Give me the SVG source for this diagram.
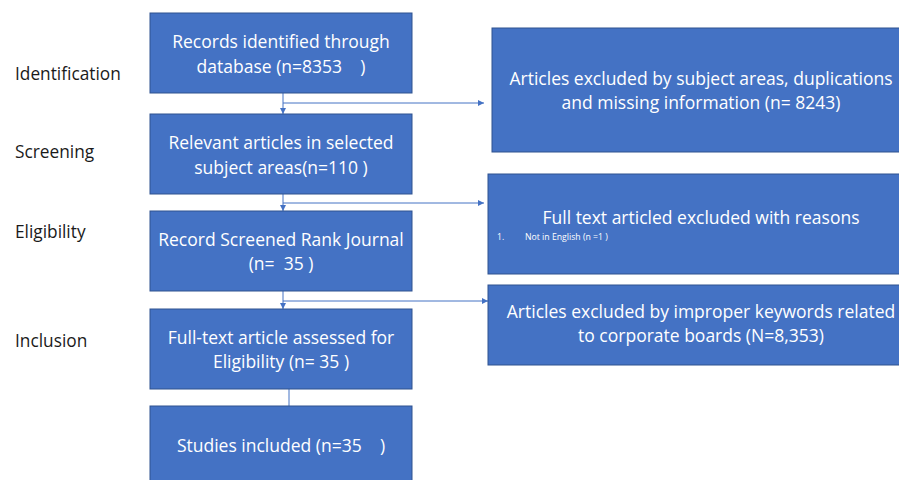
<svg xmlns="http://www.w3.org/2000/svg" width="899" height="480" viewBox="0 0 899 480">
<defs>
<marker id="ah" viewBox="0 0 10 10" refX="10" refY="5" markerWidth="6" markerHeight="6" orient="auto" markerUnits="userSpaceOnUse"><path d="M0,0 L10,5 L0,10 z" fill="#4472C4"/></marker>
<style>
.box{fill:#4472C4;stroke:#2F528F;stroke-width:1}
.t{font-family:"Open Sans","Liberation Sans",sans-serif;font-size:17.5px;fill:#fff;text-anchor:middle;white-space:pre}
.s{font-family:"Open Sans","Liberation Sans",sans-serif;font-size:8.7px;fill:#fff}
.lab{font-family:"Open Sans","Liberation Sans",sans-serif;font-size:17.3px;fill:#1a1a1a}
.ln{stroke:#4472C4;stroke-width:1;fill:none}
</style>
</defs>
<rect width="899" height="480" fill="#fff"/>
<g id="labels">
<text class="lab" x="15" y="80">Identification</text>
<text class="lab" x="15" y="158">Screening</text>
<text class="lab" x="15" y="238">Eligibility</text>
<text class="lab" x="15" y="347">Inclusion</text>
</g>
<g id="connectors">
<path class="ln" d="M283,93 V114" marker-end="url(#ah)"/>
<path class="ln" d="M283,103 H484" marker-end="url(#ah)"/>
<path class="ln" d="M283,194 V211" marker-end="url(#ah)"/>
<path class="ln" d="M283,203 H484" marker-end="url(#ah)"/>
<path class="ln" d="M283,291 V309" marker-end="url(#ah)"/>
<path class="ln" d="M283,301 H488" marker-end="url(#ah)"/>
<path class="ln" d="M289,389 V406"/>
</g>
<g id="n1"><rect class="box" x="150" y="13" width="262" height="80"/>
<text class="t" x="281" y="48">Records identified through</text>
<text class="t" x="281" y="73" xml:space="preserve">database (n=8353    )</text></g>
<g id="n2"><rect class="box" x="150" y="114" width="262" height="80"/>
<text class="t" x="281" y="149">Relevant articles in selected</text>
<text class="t" x="281" y="174">subject areas(n=110 )</text></g>
<g id="n3"><rect class="box" x="150" y="211" width="262" height="80"/>
<text class="t" x="281" y="246">Record Screened Rank Journal</text>
<text class="t" x="281" y="270" xml:space="preserve">(n=  35 )</text></g>
<g id="n4"><rect class="box" x="150" y="309" width="262" height="80"/>
<text class="t" x="281" y="344">Full-text article assessed for</text>
<text class="t" x="281" y="368">Eligibility (n= 35 )</text></g>
<g id="n5"><rect class="box" x="150" y="406" width="262" height="80"/>
<text class="t" x="281" y="452" xml:space="preserve">Studies included (n=35    )</text></g>
<g id="r1"><rect class="box" x="492" y="28" width="420" height="124"/>
<text class="t" x="701" y="85">Articles excluded by subject areas, duplications</text>
<text class="t" x="701" y="109">and missing information (n= 8243)</text></g>
<g id="r2"><rect class="box" x="488" y="174" width="420" height="100"/>
<text class="t" x="701" y="224">Full text articled excluded with reasons</text>
<text class="s" x="497" y="240">1.</text>
<text class="s" x="525" y="240">Not in English (n =1 )</text></g>
<g id="r3"><rect class="box" x="488" y="285" width="420" height="80"/>
<text class="t" x="701" y="318">Articles excluded by improper keywords related</text>
<text class="t" x="701" y="342">to corporate boards (N=8,353)</text></g>
</svg>
